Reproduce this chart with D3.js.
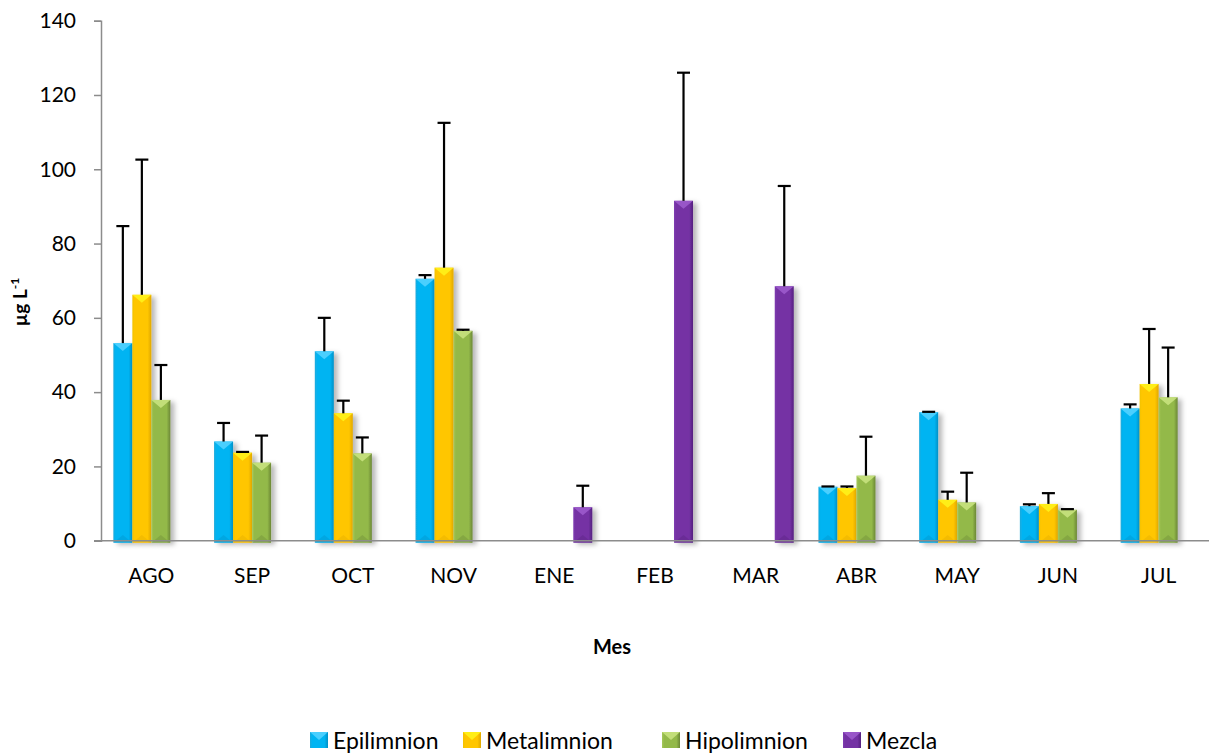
<!DOCTYPE html>
<html>
<head>
<meta charset="utf-8">
<script src="https://cdn.jsdelivr.net/npm/d3@7"></script>
<style>
  body { margin: 0; background: #fff; }
  svg { display: block; }
  text { font-family: Lato, "Open Sans", sans-serif; fill: #000; }
</style>
</head>
<body>
<svg id="chart" width="1209" height="755"></svg>
<script>
// Monthly concentration (µg L-1) by water layer, with upper error bars
const months = ["AGO", "SEP", "OCT", "NOV", "ENE", "FEB", "MAR", "ABR", "MAY", "JUN", "JUL"];
const seriesNames = ["Epilimnion", "Metalimnion", "Hipolimnion", "Mezcla"];

const epilimnion     = [53.2, 26.7, 51.0, 70.5, null, null, null, 14.5, 34.6, 9.3, 35.6];
const epilimnionErr  = [31.5, 5.0, 9.0, 1.0, null, null, null, 0.1, 0.1, 0.5, 1.1];
const metalimnion    = [66.2, 23.7, 34.3, 73.5, null, null, null, 14.2, 11.0, 9.9, 42.2];
const metalimnionErr = [36.4, 0.2, 3.4, 39.0, null, null, null, 0.4, 2.2, 2.9, 14.8];
const hipolimnion    = [37.9, 21.0, 23.5, 56.5, null, null, null, 17.5, 10.3, 8.3, 38.6];
const hipolimnionErr = [9.4, 7.3, 4.3, 0.3, null, null, null, 10.5, 8.0, 0.2, 13.4];
const mezcla         = [null, null, null, null, 9.0, 91.5, 68.5, null, null, null, null];
const mezclaErr      = [null, null, null, null, 5.8, 34.5, 27.0, null, null, null, null];

const yTicks = [0, 20, 40, 60, 80, 100, 120, 140];
const yTitle = "µg L";
const yTitleSup = "-1";
const xTitle = "Mes";

// Fill styles per series: [left edge, body, right edge, top facet]
const palette = {
  Epilimnion:  ["#1FA9DA", "#00B4F2", "#0090C6", "#52D2FF"],
  Metalimnion: ["#F2C200", "#FFC600", "#E0A800", "#FFF21A"],
  Hipolimnion: ["#A6C95A", "#93B949", "#6B8736", "#C8E27E"],
  Mezcla:      ["#7E3CB0", "#7432A4", "#55217F", "#9C5ACC"]
};

const values = [epilimnion, metalimnion, hipolimnion, mezcla];
const errors = [epilimnionErr, metalimnionErr, hipolimnionErr, mezclaErr];

const rows = [];
seriesNames.forEach((s, si) => {
  months.forEach((m, mi) => {
    if (values[si][mi] != null) {
      rows.push({ series: s, month: m, value: values[si][mi], err: errors[si][mi] });
    }
  });
});

const svg = d3.select("#chart");
const plot = { left: 101, right: 1209, top: 20.7, bottom: 540.7 };

const x0 = d3.scaleBand().domain(months)
  .range([plot.left, plot.right]).paddingInner(0.245).paddingOuter(0.1225);
const x1 = d3.scaleBand().domain(seriesNames).range([0, x0.bandwidth()]);
const y = d3.scaleLinear().domain([0, 140]).range([plot.bottom, plot.top]);

// Gradients and shadow
const defs = svg.append("defs");
seriesNames.forEach((s, i) => {
  const c = palette[s];
  const g = defs.append("linearGradient").attr("id", "grad" + i)
    .attr("x1", "0").attr("x2", "1").attr("y1", "0").attr("y2", "0");
  g.append("stop").attr("offset", "0").attr("stop-color", c[0]);
  g.append("stop").attr("offset", "0.12").attr("stop-color", c[1]);
  g.append("stop").attr("offset", "0.8").attr("stop-color", c[1]);
  g.append("stop").attr("offset", "1").attr("stop-color", c[2]);
});
const f = defs.append("filter").attr("id", "shadow")
  .attr("x", "-30%").attr("y", "-10%").attr("width", "180%").attr("height", "130%");
f.append("feDropShadow").attr("dx", 4).attr("dy", 2).attr("stdDeviation", 2.5)
  .attr("flood-color", "#000").attr("flood-opacity", 0.28);

// Axes
const yAxis = d3.axisLeft(y).tickValues(yTicks).tickSize(7).tickPadding(18);
const gy = svg.append("g").attr("transform", `translate(${plot.left},0)`).call(yAxis);
gy.select(".domain").attr("stroke", "#8C8C8C").attr("stroke-width", 1.5);
gy.selectAll(".tick line").attr("stroke", "#8C8C8C").attr("stroke-width", 1.5);
gy.selectAll(".tick text").style("font-size", "21px").attr("fill", "#000");

// Bars
const bw = x1.bandwidth();
const bars = svg.append("g");
rows.forEach(d => {
  const si = seriesNames.indexOf(d.series);
  const bx = x0(d.month) + x1(d.series);
  const top = y(d.value);
  const g = bars.append("g");
  g.append("rect")
    .attr("x", bx).attr("y", top)
    .attr("width", bw).attr("height", y(0) - top + 2)
    .attr("fill", `url(#grad${si})`)
    .attr("filter", "url(#shadow)");
  // bevel facet at the top of the bar
  g.append("path")
    .attr("d", `M${bx},${top} L${bx + bw},${top} L${bx + bw / 2},${top + bw * 0.42} Z`)
    .attr("fill", palette[d.series][3]).attr("opacity", 0.9);
  g.append("path")
    .attr("d", `M${bx},${y(0) + 2} L${bx + bw},${y(0) + 2} L${bx + bw / 2},${y(0) + 2 - bw * 0.4} Z`)
    .attr("fill", palette[d.series][2]).attr("opacity", 0.35);
});

// X axis line drawn over bar bases
svg.append("line")
  .attr("x1", plot.left - 7).attr("x2", plot.right)
  .attr("y1", y(0)).attr("y2", y(0))
  .attr("stroke", "#8C8C8C").attr("stroke-width", 1.5);

// Error bars (upper only)
const eb = svg.append("g").attr("stroke", "#000").attr("stroke-width", 2.2);
rows.forEach(d => {
  const cx = x0(d.month) + x1(d.series) + bw / 2;
  const yTop = y(d.value + d.err);
  eb.append("line").attr("x1", cx).attr("x2", cx).attr("y1", y(d.value)).attr("y2", yTop);
  eb.append("line").attr("x1", cx - 6.5).attr("x2", cx + 6.5).attr("y1", yTop).attr("y2", yTop);
});

// Category labels
svg.append("g").selectAll("text").data(months).join("text")
  .attr("x", m => x0(m) + x0.bandwidth() / 2)
  .attr("y", 583)
  .attr("text-anchor", "middle")
  .style("font-size", "21px")
  .text(m => m);

// Axis titles
svg.append("text")
  .attr("x", 612).attr("y", 654)
  .attr("text-anchor", "middle")
  .style("font-size", "20px").style("font-weight", "bold")
  .text(xTitle);

const yt = svg.append("text")
  .attr("transform", "translate(27,302) rotate(-90)")
  .attr("text-anchor", "middle")
  .style("font-size", "19px").style("font-weight", "bold");
yt.append("tspan").text(yTitle);
yt.append("tspan").attr("dy", -8).style("font-size", "12px").text(yTitleSup);

// Legend
const legendX = [310, 463, 662, 843];
const legend = svg.append("g");
seriesNames.forEach((s, i) => {
  const lx = legendX[i];
  const g = legend.append("g").attr("transform", `translate(${lx},732)`);
  g.append("rect").attr("width", 18).attr("height", 16).attr("fill", `url(#grad${i})`);
  g.append("path").attr("d", "M0,0 L18,0 L9,8 Z").attr("fill", palette[s][3]).attr("opacity", 0.9);
  g.append("text").attr("x", 23).attr("y", 16.5).style("font-size", "23px").text(s);
});
</script>
</body>
</html>
